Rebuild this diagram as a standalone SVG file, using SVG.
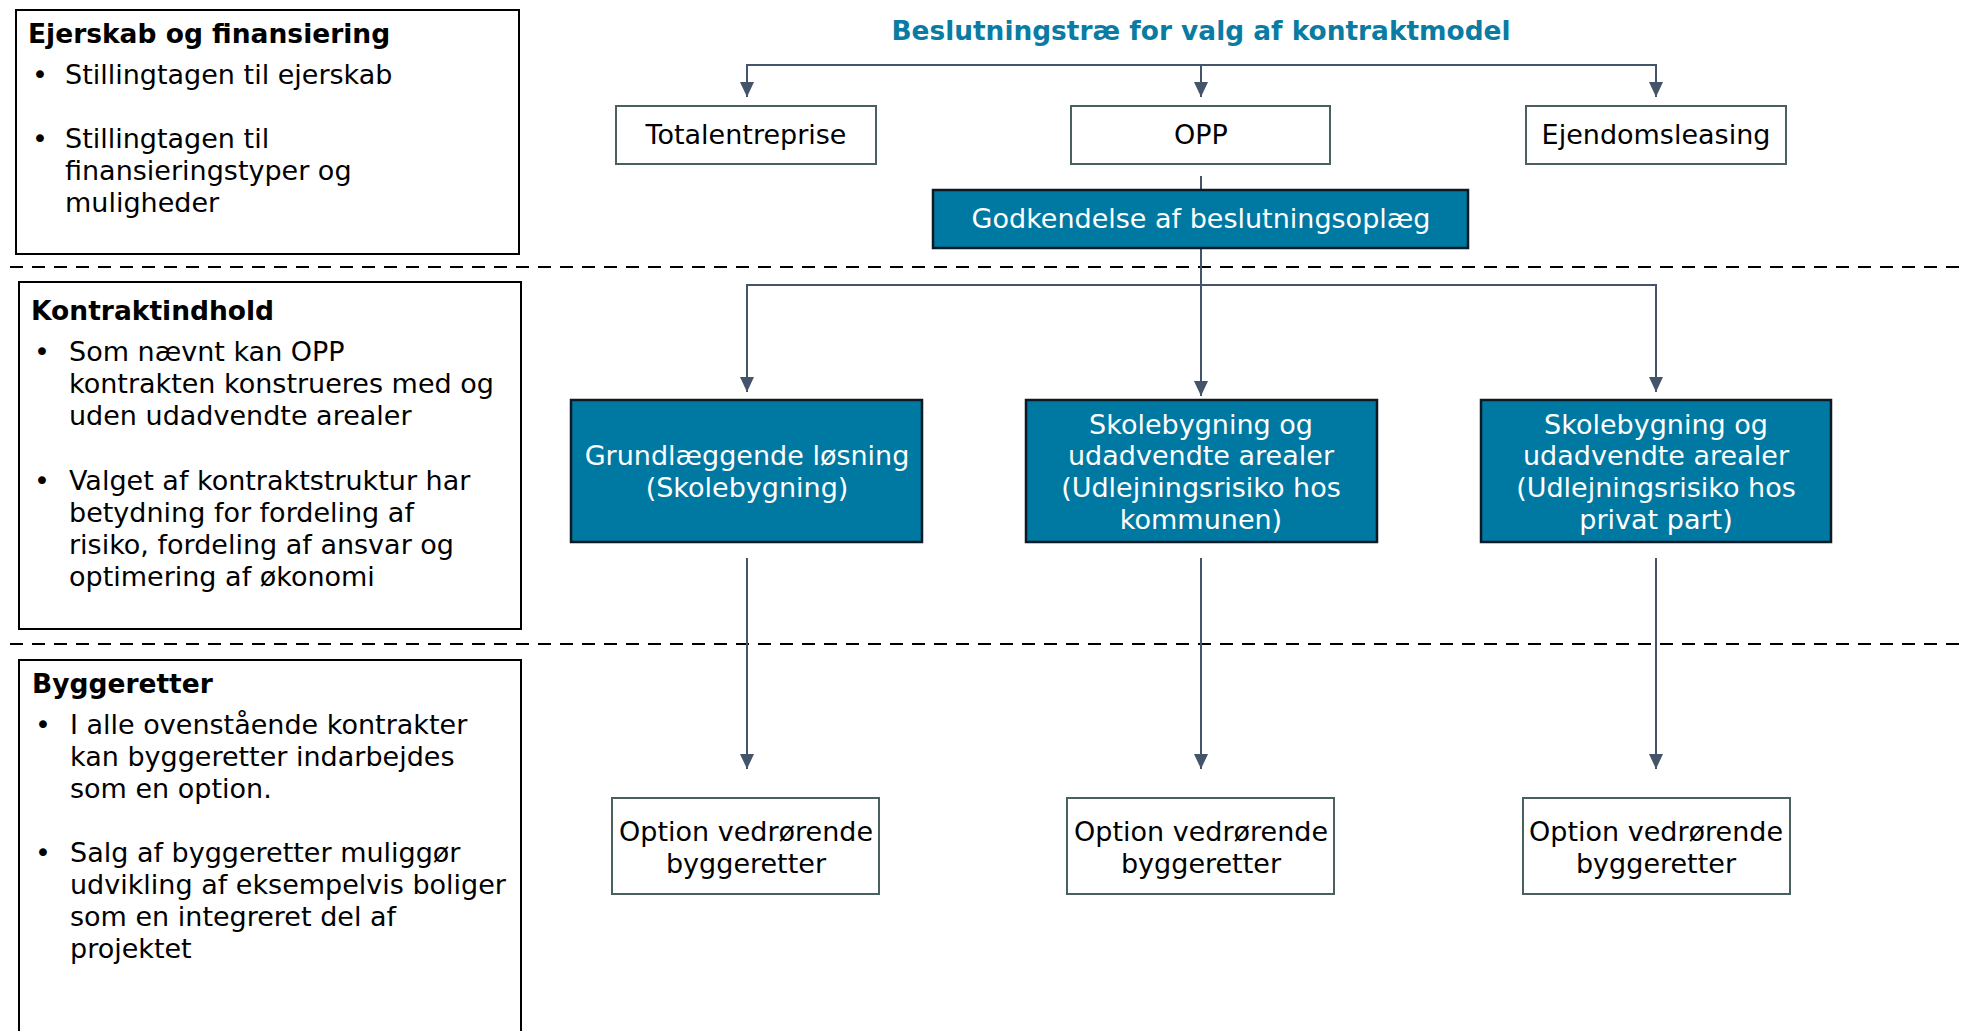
<svg xmlns="http://www.w3.org/2000/svg" width="1964" height="1031" viewBox="0 0 1964 1031">
<style>
text{font-family:"DejaVu Sans","Verdana",sans-serif;font-size:27px;fill:#000}
.hd{font-weight:bold;font-size:26.5px}
.ttl{font-weight:bold;font-size:26.4px;fill:#0A7BA3}
.wt{fill:#fff}
.mid{text-anchor:middle}
.side{fill:#fff;stroke:#000;stroke-width:2}
.wbox{fill:#fff;stroke:#4A6060;stroke-width:2}
.bbox{fill:#0079A2;stroke:#0B1A24;stroke-width:2.5}
.dash{stroke:#000;stroke-width:2;stroke-dasharray:13 9;fill:none}
.con{stroke:#44546A;stroke-width:2;fill:none}
</style>
<defs>
<marker id="ah" viewBox="0 0 15 14" refX="15" refY="7" markerWidth="15" markerHeight="14" markerUnits="userSpaceOnUse" orient="auto-start-reverse">
<path d="M0,0 L15,7 L0,14 Z" fill="#44546A"/>
</marker>
</defs>

<g id="dividers">
<line class="dash" x1="10" y1="267" x2="1964" y2="267"/>
<line class="dash" x1="10" y1="644" x2="1964" y2="644"/>
</g>

<g id="side-ejerskab">
<rect class="side" x="16" y="10" width="503" height="244"/>
<text class="hd" x="28" y="43">Ejerskab og finansiering</text>
<text x="32" y="84">•</text><text x="65" y="84">Stillingtagen til ejerskab</text>
<text x="32" y="148">•</text><text x="65" y="148">Stillingtagen til</text>
<text x="65" y="180">finansieringstyper og</text>
<text x="65" y="212">muligheder</text>
</g>

<g id="side-kontrakt">
<rect class="side" x="19" y="282" width="502" height="347"/>
<text class="hd" x="31" y="320">Kontraktindhold</text>
<text x="34" y="361">•</text><text x="69" y="361">Som nævnt kan OPP</text>
<text x="69" y="393">kontrakten konstrueres med og</text>
<text x="69" y="425">uden udadvendte arealer</text>
<text x="34" y="490">•</text><text x="69" y="490">Valget af kontraktstruktur har</text>
<text x="69" y="522">betydning for fordeling af</text>
<text x="69" y="554">risiko, fordeling af ansvar og</text>
<text x="69" y="586">optimering af økonomi</text>
</g>

<g id="side-byggeretter">
<rect class="side" x="19" y="660" width="502" height="390"/>
<text class="hd" x="32" y="693">Byggeretter</text>
<text x="35" y="734">•</text><text x="70" y="734">I alle ovenstående kontrakter</text>
<text x="70" y="766">kan byggeretter indarbejdes</text>
<text x="70" y="798">som en option.</text>
<text x="35" y="862">•</text><text x="70" y="862">Salg af byggeretter muliggør</text>
<text x="70" y="894">udvikling af eksempelvis boliger</text>
<text x="70" y="926">som en integreret del af</text>
<text x="70" y="958">projektet</text>
</g>

<g id="title">
<text class="ttl mid" x="1201" y="40">Beslutningstræ for valg af kontraktmodel</text>
</g>

<g id="connectors">
<path class="con" d="M747,97 V65 H1656 V97" marker-start="url(#ah)" marker-end="url(#ah)"/>
<line class="con" x1="1201" y1="65" x2="1201" y2="97" marker-end="url(#ah)"/>
<line class="con" x1="1201" y1="176" x2="1201" y2="190"/>
<line class="con" x1="1201" y1="248" x2="1201" y2="396" marker-end="url(#ah)"/>
<path class="con" d="M747,392 V285 H1656 V392" marker-start="url(#ah)" marker-end="url(#ah)"/>
<line class="con" x1="747" y1="558" x2="747" y2="769" marker-end="url(#ah)"/>
<line class="con" x1="1201" y1="558" x2="1201" y2="769" marker-end="url(#ah)"/>
<line class="con" x1="1656" y1="558" x2="1656" y2="769" marker-end="url(#ah)"/>
</g>

<g id="node-totalentreprise">
<rect class="wbox" x="616" y="106" width="260" height="58"/>
<text class="mid" x="746" y="144">Totalentreprise</text>
</g>
<g id="node-opp">
<rect class="wbox" x="1071" y="106" width="259" height="58"/>
<text class="mid" x="1201" y="144">OPP</text>
</g>
<g id="node-ejendomsleasing">
<rect class="wbox" x="1526" y="106" width="260" height="58"/>
<text class="mid" x="1656" y="144">Ejendomsleasing</text>
</g>

<g id="node-godkendelse">
<rect class="bbox" x="933" y="190" width="535" height="58"/>
<text class="mid wt" x="1201" y="228">Godkendelse af beslutningsoplæg</text>
</g>

<g id="node-grundlaeggende">
<rect class="bbox" x="571" y="400" width="351" height="142"/>
<text class="mid wt" x="747" y="465">Grundlæggende løsning</text>
<text class="mid wt" x="747" y="497">(Skolebygning)</text>
</g>
<g id="node-kommunen">
<rect class="bbox" x="1026" y="400" width="351" height="142"/>
<text class="mid wt" x="1201" y="434">Skolebygning og</text>
<text class="mid wt" x="1201" y="465">udadvendte arealer</text>
<text class="mid wt" x="1201" y="497">(Udlejningsrisiko hos</text>
<text class="mid wt" x="1201" y="529">kommunen)</text>
</g>
<g id="node-privat">
<rect class="bbox" x="1481" y="400" width="350" height="142"/>
<text class="mid wt" x="1656" y="434">Skolebygning og</text>
<text class="mid wt" x="1656" y="465">udadvendte arealer</text>
<text class="mid wt" x="1656" y="497">(Udlejningsrisiko hos</text>
<text class="mid wt" x="1656" y="529">privat part)</text>
</g>

<g id="node-option1">
<rect class="wbox" x="612" y="798" width="267" height="96"/>
<text class="mid" x="746" y="841">Option vedrørende</text>
<text class="mid" x="746" y="873">byggeretter</text>
</g>
<g id="node-option2">
<rect class="wbox" x="1067" y="798" width="267" height="96"/>
<text class="mid" x="1201" y="841">Option vedrørende</text>
<text class="mid" x="1201" y="873">byggeretter</text>
</g>
<g id="node-option3">
<rect class="wbox" x="1523" y="798" width="267" height="96"/>
<text class="mid" x="1656" y="841">Option vedrørende</text>
<text class="mid" x="1656" y="873">byggeretter</text>
</g>
</svg>
